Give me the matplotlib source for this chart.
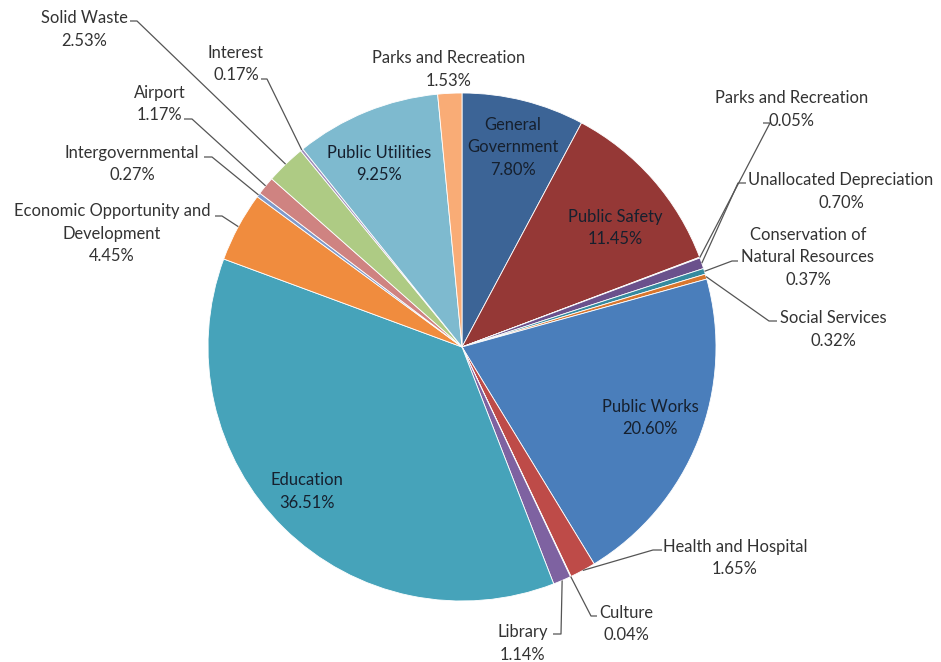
import numpy as np
import matplotlib
matplotlib.use("Agg")
import matplotlib.pyplot as plt

plt.rcParams['font.family'] = ['Lato', 'DejaVu Sans']

# ---- data (clockwise from 12 o'clock) ----
categories = ["General\nGovernment", "Public Safety", "Parks and Recreation",
              "Unallocated Depreciation", "Conservation of\nNatural Resources",
              "Social Services", "Public Works", "Health and Hospital", "Culture",
              "Library", "Education", "Economic Opportunity and\nDevelopment",
              "Intergovernmental", "Airport", "Solid Waste", "Interest",
              "Public Utilities", "Parks and Recreation"]
values = [7.80, 11.45, 0.05, 0.70, 0.37, 0.32, 20.60, 1.65, 0.04, 1.14, 36.51,
          4.45, 0.27, 1.17, 2.53, 0.17, 9.25, 1.53]
colors = ["#3C6496", "#953836", "#71893F", "#6A518C", "#358A9F", "#D8762E",
          "#4A7EBB", "#BE4B48", "#98B954", "#7E62A1", "#46A3BA", "#F08C3E",
          "#7F9ACB", "#CF8381", "#AECB84", "#A08DBA", "#7EBACF", "#F9AC76"]

# ---- layout (pixel coordinates, y downward) ----
CX, CY, R = 462, 347, 254
# label text center x, first-line y ; leader (start x, start y, tick dx) or None
layout = [
    (513, 125, None),
    (615, 217, None),
    (792, 98, (763, 123, 7)),
    (841, 180, (746, 183, -8)),
    (808, 235, (738, 261, -6)),
    (833, 318, (777, 321, -8)),
    (650, 407, None),
    (735, 547, (662, 550, -9)),
    (626, 613, (597, 616, -6)),
    (523, 632, (553, 634, 8)),
    (307, 480, None),
    (112, 211, (215, 216, 7)),
    (132, 153, (204, 157, 8)),
    (160, 93, (184, 119, 8)),
    (84, 18, (130, 21, 7)),
    (236, 53, (261, 79, 6)),
    (379, 153, None),
    (449, 58, None),
]

fig = plt.figure(figsize=(9.41, 6.62), dpi=100)
ax = fig.add_axes([0, 0, 1, 1])
ax.pie(values, colors=colors, startangle=-90, counterclock=True,
       center=(CX, CY), radius=R,
       wedgeprops=dict(edgecolor='white', linewidth=0.6))
ax.set_xlim(0, 941)
ax.set_ylim(662, 0)
ax.set_aspect('equal')
ax.axis('off')

total = sum(values)
cum = np.cumsum([0] + values)
LS = 22.5
for i, (name, v) in enumerate(zip(categories, values)):
    tx, ty, lead = layout[i]
    text = f"{name}\n{v:.2f}%"
    inside = lead is None and i != 17
    col = '#16202e' if inside else '#333333'
    lines = text.split("\n")
    for k, ln in enumerate(lines):
        ax.text(tx, ty + k * LS, ln, ha='center', va='center', fontsize=11.9,
                color=col)
    if lead is not None:
        mid = (cum[i] + cum[i + 1]) / 2 / total * 2 * np.pi
        rx = CX + R * np.sin(mid)
        ry = CY - R * np.cos(mid)
        sx, sy, dx = lead
        ax.plot([sx, sx + dx, rx], [sy, sy, ry], color='#555555', lw=0.9,
                solid_capstyle='butt')

fig.savefig("out.png", dpi=100, facecolor='white')
